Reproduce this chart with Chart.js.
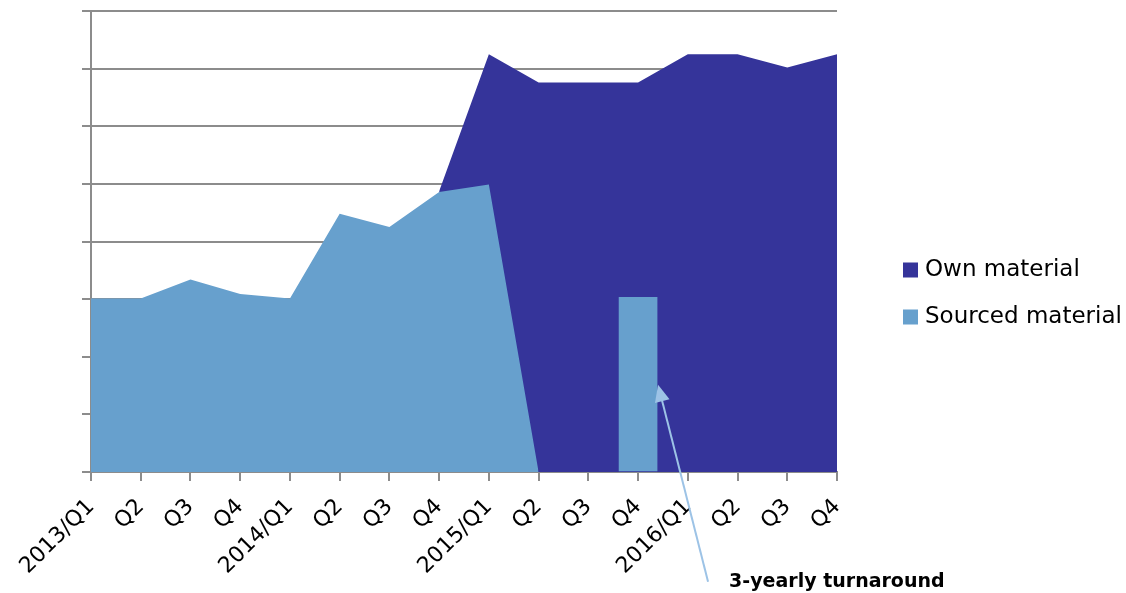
<!DOCTYPE html>
<html>
<head>
<meta charset="utf-8">
<title>Own vs sourced material</title>
<script src="https://cdn.jsdelivr.net/npm/chart.js@4.4.1/dist/chart.umd.min.js"></script>
<style>
  html, body { margin: 0; padding: 0; background: #fff; }
  #wrap { width: 1126px; height: 593px; position: relative; }
</style>
</head>
<body>
<div id="wrap"><canvas id="chart"></canvas></div>
<script>
// quarters on the x axis
const quarters = [
  "2013/Q1", "Q2", "Q3", "Q4",
  "2014/Q1", "Q2", "Q3", "Q4",
  "2015/Q1", "Q2", "Q3", "Q4",
  "2016/Q1", "Q2", "Q3", "Q4"
];

// volumes per quarter (null = nothing in that quarter)
const ownMaterial = [null, null, null, null, null, null, null, 4.87, 7.25, 6.76, 6.76, 6.76, 7.25, 7.25, 7.02, 7.25];
const sourcedMaterial = [3.01, 3.01, 3.34, 3.09, 3.01, 4.48, 4.25, 4.86, 4.99, 0, null, null, null, null, null, null];
const turnaroundBar = [null, null, null, null, null, null, null, null, null, null, null, 3.03, null, null, null, null];

const yTicks = [0, 1, 2, 3, 4, 5, 6, 7, 8];

const OWN = "#35349a";
const SOURCED = "#67a0cd";
const ARROW = "#9dc3e6";
const GRID = "#8c8c8c";

Chart.defaults.font.family = "'DejaVu Sans', Verdana, sans-serif";
Chart.defaults.color = "#000";

// legend on the right, own material first
const sideLegend = {
  id: "sideLegend",
  afterDraw(chart) {
    const { ctx, chartArea } = chart;
    const items = [
      { text: "Own material", color: OWN },
      { text: "Sourced material", color: SOURCED }
    ];
    ctx.save();
    ctx.font = "23px 'DejaVu Sans', Verdana, sans-serif";
    ctx.textBaseline = "middle";
    ctx.textAlign = "left";
    items.forEach((it, i) => {
      const cy = 270 + i * 47;
      const bx = chartArea.right + 66;
      ctx.fillStyle = it.color;
      ctx.fillRect(bx, cy - 7.5, 15, 15);
      ctx.fillStyle = "#000";
      ctx.fillText(it.text, bx + 22, cy);
    });
    ctx.restore();
  }
};

// callout pointing at the turnaround bar
const callout = {
  id: "callout",
  afterDraw(chart) {
    const { ctx } = chart;
    const bar = chart.getDatasetMeta(1).data[11];
    if (!bar) return;
    const yScale = chart.scales.y;
    const tipX = bar.x + bar.width / 2 + 1;
    const tipY = yScale.getPixelForValue(turnaroundBar[11] / 2);
    const tailX = tipX + 50;
    const tailY = tipY + 197;

    const ang = Math.atan2(tipY - tailY, tipX - tailX);
    const headLen = 17, headHalf = 7.5;

    ctx.save();
    ctx.strokeStyle = ARROW;
    ctx.fillStyle = ARROW;
    ctx.lineWidth = 2;
    ctx.beginPath();
    ctx.moveTo(tailX, tailY);
    ctx.lineTo(tipX - Math.cos(ang) * headLen * 0.8, tipY - Math.sin(ang) * headLen * 0.8);
    ctx.stroke();

    const bx = tipX - Math.cos(ang) * headLen;
    const by = tipY - Math.sin(ang) * headLen;
    ctx.beginPath();
    ctx.moveTo(tipX, tipY);
    ctx.lineTo(bx + Math.sin(ang) * headHalf, by - Math.cos(ang) * headHalf);
    ctx.lineTo(bx - Math.sin(ang) * headHalf, by + Math.cos(ang) * headHalf);
    ctx.closePath();
    ctx.fill();

    ctx.fillStyle = "#000";
    ctx.font = "bold 19px 'DejaVu Sans', Verdana, sans-serif";
    ctx.textBaseline = "alphabetic";
    ctx.textAlign = "left";
    ctx.fillText("3-yearly turnaround", tailX + 21, tailY + 5);
    ctx.restore();
  }
};

new Chart(document.getElementById("chart"), {
  type: "line",
  data: {
    labels: quarters,
    datasets: [
      {
        label: "Sourced material",
        data: sourcedMaterial,
        backgroundColor: SOURCED,
        borderColor: SOURCED,
        borderWidth: 0,
        pointRadius: 0,
        fill: "origin",
        tension: 0
      },
      {
        type: "bar",
        label: "Turnaround",
        data: turnaroundBar,
        backgroundColor: SOURCED,
        borderWidth: 0,
        barThickness: 38
      },
      {
        label: "Own material",
        data: ownMaterial,
        backgroundColor: OWN,
        borderColor: OWN,
        borderWidth: 0,
        pointRadius: 0,
        fill: "origin",
        tension: 0
      }
    ]
  },
  options: {
    responsive: true,
    maintainAspectRatio: false,
    animation: false,
    layout: { padding: { left: 82, right: 289, top: 11, bottom: 0 } },
    plugins: {
      legend: { display: false },
      tooltip: { enabled: false }
    },
    scales: {
      x: {
        offset: false,
        grid: { offset: false, drawOnChartArea: false, drawTicks: true, tickLength: 9, color: GRID, lineWidth: 2 },
        border: { display: true, color: GRID, width: 2 },
        ticks: {
          autoSkip: false,
          minRotation: 45,
          maxRotation: 45,
          padding: 13,
          color: "#000",
          font: { size: 22 }
        },
        afterFit: (s) => { s.height = 121; }
      },
      y: {
        min: yTicks[0],
        max: yTicks[yTicks.length - 1],
        afterBuildTicks: (s) => { s.ticks = yTicks.map(v => ({ value: v })); },
        grid: { color: GRID, lineWidth: 2, tickLength: 9 },
        border: { display: true, color: GRID, width: 2 },
        ticks: { display: false },
        afterFit: (s) => { s.width = 9; }
      }
    }
  },
  plugins: [sideLegend, callout]
});
</script>
</body>
</html>
